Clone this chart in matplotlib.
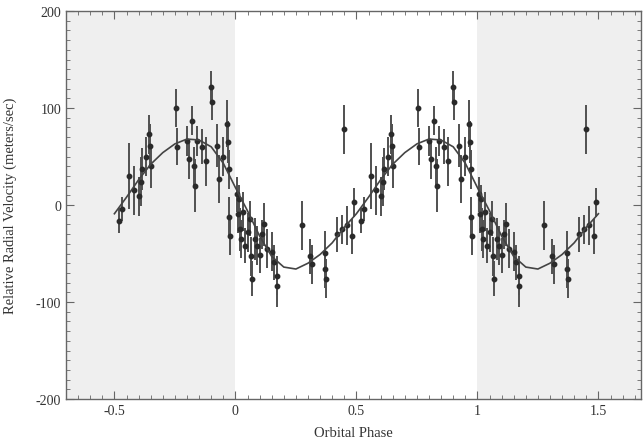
import numpy as np
import matplotlib.pyplot as plt
from matplotlib.ticker import MultipleLocator

# phase-folded radial velocity measurements (phase 0..1), values in m/s
phase = [0.52, 0.53, 0.56, 0.58, 0.60, 0.61, 0.615, 0.63, 0.645, 0.648, 0.652,
         0.756, 0.76, 0.80, 0.81, 0.822, 0.83, 0.835, 0.84, 0.864, 0.88,
         0.90, 0.902, 0.926, 0.934, 0.95, 0.967, 0.97, 0.972, 0.975, 0.978,
         0.005, 0.01, 0.015, 0.02, 0.025, 0.03, 0.04, 0.05, 0.06,
         0.065, 0.07, 0.08, 0.09, 0.10, 0.11, 0.12, 0.13, 0.15, 0.16, 0.17, 0.172,
         0.275, 0.31, 0.315, 0.37, 0.372, 0.375, 0.42, 0.44, 0.45, 0.46,
         0.48, 0.49]
rv = [-16, -4, 30, 15, 9, 24, 37, 50, 73, 61, 40,
      100, 60, 66, 47, 87, 40, 20, 66, 60, 45,
      122, 106, 61, 27, 50, 84, 65, 37, -12, -32,
      11, -9, 6, -25, -35, -7, -42, -28, -14,
      -53, -76, -35, -42, -52, -30, -20, -45, -48, -59, -73, -83,
      -21, -53, -61, -49, -66, -76, -30, -25, 78, -21,
      -32, 3]
rv_err = [13, 12, 34, 25, 20, 25, 22, 20, 20, 22, 22,
          20, 19, 15, 20, 15, 20, 27, 15, 18, 25,
          16, 18, 22, 25, 20, 24, 22, 20, 20, 20,
          18, 20, 15, 22, 20, 20, 18, 20, 18,
          20, 18, 22, 20, 18, 15, 22, 20, 20, 18, 20, 22,
          25, 18, 20, 22, 20, 20, 18, 15, 25, 20,
          18, 15]

# orbit fit, one period
model_phase = [0.00, 0.05, 0.10, 0.15, 0.20, 0.25, 0.30, 0.35, 0.40, 0.45,
               0.50, 0.55, 0.60, 0.65, 0.70, 0.75, 0.80, 0.85, 0.90, 0.95, 1.00]
model_rv = [18, -6, -32, -53, -64, -66, -60, -51, -39, -23,
            -9, 8, 26, 42, 54, 63, 68, 67, 60, 43, 18]

x_ticks = [-0.5, 0, 0.5, 1, 1.5]
x_labels = ['-0.5', '0', '0.5', '1', '1.5']
y_ticks = [-200, -100, 0, 100, 200]

plt.rcParams['font.family'] = ['Liberation Serif', 'DejaVu Serif']
plt.rcParams['axes.unicode_minus'] = False
text_col = '#333333'

fig = plt.figure(figsize=(6.44, 4.39), dpi=100)
ax = fig.add_axes([66 / 644, 1 - 400 / 439, 575 / 644, 388 / 439])
ax.set_xlim(-0.7, 1.676)
ax.set_ylim(-200, 200)

# shaded repeated phases
ax.axvspan(-0.7, 0, color='#efefef', lw=0, zorder=0)
ax.axvspan(1, 1.7, color='#efefef', lw=0, zorder=0)

ph = np.array(phase)
v = np.array(rv)
e = np.array(rv_err)
for shift in (-1, 0, 1):
    p = ph + shift
    m = (p >= -0.5) & (p <= 1.5)
    ax.errorbar(p[m], v[m], yerr=e[m], fmt='o', ms=3.2, color='#2a2a2a',
                ecolor='#505050', elinewidth=1.4, capsize=0, zorder=3)

# model curve, same period repeated over -0.5..1.5
mp = np.array(model_phase[:-1])
mv = np.array(model_rv[:-1])
cp = np.concatenate([mp - 1, mp, mp + 1, [2.0]])
cv = np.concatenate([mv, mv, mv, [model_rv[-1]]])
keep = (cp >= -0.5) & (cp <= 1.5)
ax.plot(cp[keep], cv[keep], color='#444444', lw=1.2, zorder=4)

ax.set_xticks(x_ticks)
ax.set_xticklabels(x_labels)
ax.set_yticks(y_ticks)
ax.xaxis.set_minor_locator(MultipleLocator(0.05))
ax.yaxis.set_minor_locator(MultipleLocator(10))
ax.tick_params(which='both', direction='in', top=True, right=True,
               color='#666666', labelcolor=text_col, labelsize=10)
ax.tick_params(which='major', length=6)
ax.tick_params(which='minor', length=3)
for s in ax.spines.values():
    s.set_color('#666666')
    s.set_linewidth(1)

ax.set_xlabel('Orbital Phase', fontsize=10.5, color=text_col)
ax.set_ylabel('Relative Radial Velocity (meters/sec)', fontsize=10.5, color=text_col)
ax.xaxis.set_label_coords(0.5, -0.07)
ax.yaxis.set_label_coords(-0.085, 0.5)

fig.savefig('out.png', dpi=100)
